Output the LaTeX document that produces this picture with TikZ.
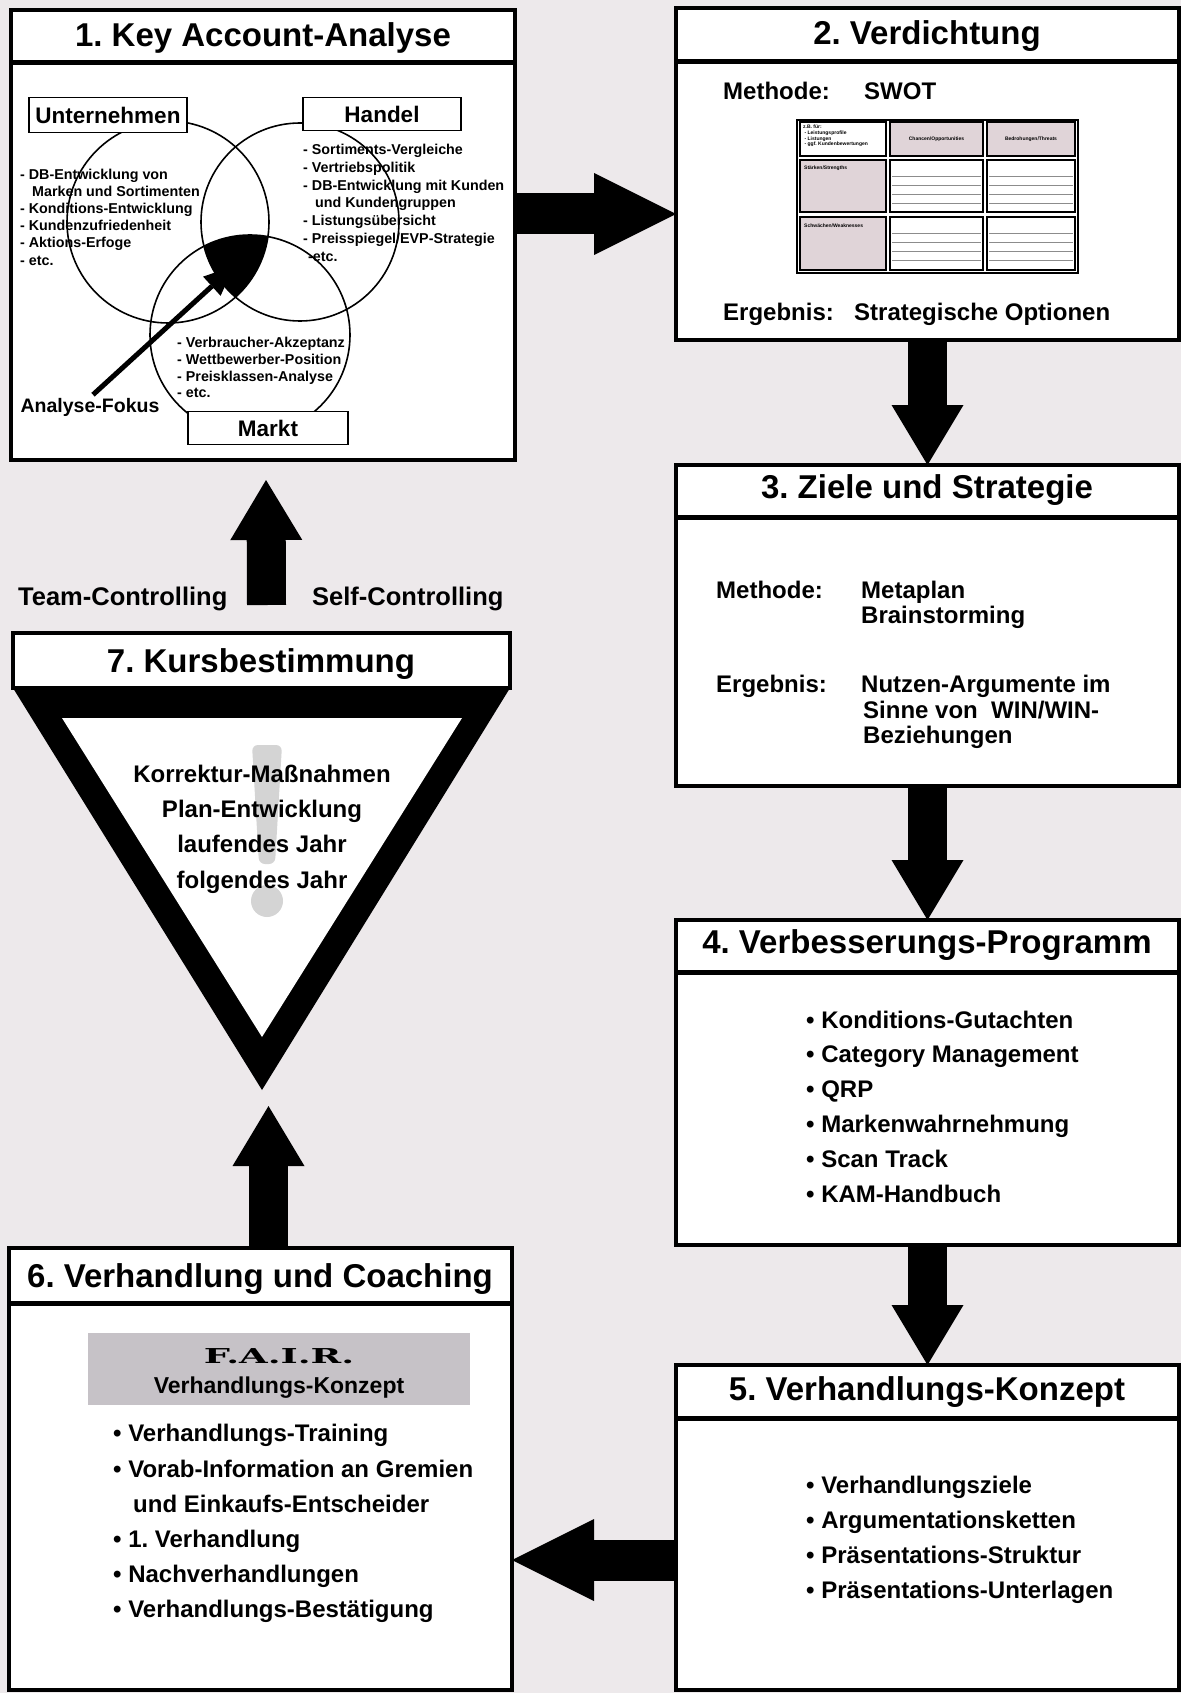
\documentclass[tikz,border=0pt]{standalone}
\usepackage{fontspec}
\usepackage{graphicx}
\setmainfont{Liberation Sans}
\newfontfamily\fairfont{DejaVu Serif}
\usetikzlibrary{arrows.meta, positioning, calc}
\frenchspacing

\definecolor{hgrund}{RGB}{237,233,235}
\definecolor{rosa}{RGB}{224,212,216}
\definecolor{fairgrau}{RGB}{198,194,199}

\tikzset{
  kasten/.style={draw, line width=4pt, fill=white, anchor=north west, inner sep=0pt, outer sep=0pt},
  trenn/.style={line width=5pt},
  titel/.style={font=\fontsize{33}{38}\selectfont\bfseries, anchor=base, inner sep=0pt},
  text24/.style={font=\fontsize{24}{28}\selectfont\bfseries, anchor=base west, inner sep=0pt},
  mitte24/.style={font=\fontsize{24}{28}\selectfont\bfseries, anchor=base, inner sep=0pt},
  venntext/.style={font=\fontsize{14.3}{17}\selectfont\bfseries, anchor=base west, inner sep=0pt},
  etikett/.style={draw, line width=1.5pt, fill=white, inner sep=0pt, font=\fontsize{22.5}{26}\selectfont\bfseries},
  kreis/.style={line width=1.6pt},
  blockpfeil/.style={line width=39pt, -{Triangle[length=60pt, width=72pt, line width=0pt]}},
  querpfeil/.style={line width=41pt, -{Triangle[length=82pt, width=82pt, line width=0pt]}},
  zelle/.style={draw, line width=1.2pt},
  mini/.style={font=\fontsize{5}{5.6}\selectfont\bfseries, inner sep=0pt},
}

\begin{document}
\begin{tikzpicture}[x=1pt, y=-1pt]
  % Hintergrund
  \fill[hgrund] (0,0) rectangle (1181,1693);
  \useasboundingbox (0,0) rectangle (1181,1693);

  % Kaesten
  \node[kasten, minimum width=504pt, minimum height=450pt] (ka) at (11,10) {};
  \node[kasten, minimum width=503pt, minimum height=332pt] (verd) at (676,8) {};
  \node[kasten, minimum width=503pt, minimum height=321pt] (ziele) at (676,465) {};
  \node[kasten, minimum width=503pt, minimum height=325pt] (verb) at (676,920) {};
  \node[kasten, minimum width=503pt, minimum height=325pt] (konz) at (676,1365) {};
  \node[kasten, minimum width=503pt, minimum height=442pt] (verh) at (9,1248) {};

  \draw[trenn] ($(ka.north west)+(0,53)$) -- ($(ka.north east)+(0,53)$);
  \draw[trenn] ($(verd.north west)+(0,54)$) -- ($(verd.north east)+(0,54)$);
  \draw[trenn] ($(ziele.north west)+(0,52)$) -- ($(ziele.north east)+(0,52)$);
  \draw[trenn] ($(verb.north west)+(0,52)$) -- ($(verb.north east)+(0,52)$);
  \draw[trenn] ($(konz.north west)+(0,53)$) -- ($(konz.north east)+(0,53)$);
  \draw[trenn] ($(verh.north west)+(0,55)$) -- ($(verh.north east)+(0,55)$);

  % Dreieck Kursbestimmung
  \fill (13,688) -- (510,688) -- (262,1090) -- cycle;
  \fill[white] (62,718) -- (462,718) -- (262,1037) -- cycle;
  \node[kasten, minimum width=497pt, minimum height=55pt] (kurs) at (13,633) {};
  \fill[black!17, rounded corners=6pt] (252,745) -- (282,745) -- (275,864) -- (259,864) -- cycle;
  \fill[black!17] (267,901) circle[radius=16];

  % Titel
  \node[titel] (t1) at (263,47) {1. Key Account-Analyse};
  \node[titel] (t2) at (927,45) {2. Verdichtung};
  \node[titel] (t3) at (927,498) {3. Ziele und Strategie};
  \node[titel] (t4) at (927,953) {4. Verbesserungs-Programm};
  \node[titel] (t5) at (927,1400) {5. Verhandlungs-Konzept};
  \node[titel] (t6) at (260,1287) {6. Verhandlung und Coaching};
  \node[titel] (t7) at (261,672) {7. Kursbestimmung};

  % Venn-Diagramm
  \begin{scope}
    \clip (168,222) circle[radius=101];
    \clip (300,222) circle[radius=99];
    \fill (250,335) circle[radius=100];
  \end{scope}
  \draw[kreis] (168,222) circle[radius=101];
  \draw[kreis] (300,222) circle[radius=99];
  \draw[kreis] (250,335) circle[radius=100];

  \node[venntext] (u1) at (20,180) {- DB-Entwicklung von};
  \node[venntext] (u2) at (32,197) {Marken und Sortimenten};
  \node[venntext] (u3) at (20,214) {- Konditions-Entwicklung};
  \node[venntext] (u4) at (20,231) {- Kundenzufriedenheit};
  \node[venntext] (u5) at (20,248) {- Aktions-Erfoge};
  \node[venntext] (u6) at (20,266) {- etc.};

  \node[venntext] (h1) at (303,155) {- Sortiments-Vergleiche};
  \node[venntext] (h2) at (303,173) {- Vertriebspolitik};
  \node[venntext] (h3) at (303,191) {- DB-Entwicklung mit Kunden};
  \node[venntext] (h4) at (315,208) {und Kundengruppen};
  \node[venntext] (h5) at (303,226) {- Listungsübersicht};
  \node[venntext] (h6) at (303,244) {- Preisspiegel/EVP-Strategie};
  \node[venntext] (h7) at (308,262) {-etc.};

  \node[venntext] (m1) at (177,347) {- Verbraucher-Akzeptanz};
  \node[venntext] (m2) at (177,364) {- Wettbewerber-Position};
  \node[venntext] (m3) at (177,381) {- Preisklassen-Analyse};
  \node[venntext] (m4) at (177,397) {- etc.};

  \node[etikett, minimum width=158pt, minimum height=35pt] (unt) at (108,115) {Unternehmen};
  \node[etikett, minimum width=158pt, minimum height=33pt] (handel) at (382,114) {Handel};
  \node[etikett, minimum width=160pt, minimum height=33pt] (markt) at (268,428) {Markt};

  \node[font=\fontsize{19.5}{22}\selectfont\bfseries, inner sep=0pt] (fokus) at (90,407) {Analyse-Fokus};
  \coordinate (fokusziel) at (234,266);
  \draw[line width=5pt, -{Triangle[length=30pt, width=26pt, line width=0pt]}] ($(fokus.north)+(3,-3)$) -- (fokusziel);

  % SWOT-Tabelle
  \draw[line width=2.5pt] (797,120) rectangle (1078,273);
  \draw[zelle, fill=white] (800,122) rectangle (886,156);
  \draw[zelle, fill=rosa] (890,122) rectangle (983,156);
  \draw[zelle, fill=rosa] (987,122) rectangle (1075,156);
  \draw[zelle, fill=rosa] (800,160) rectangle (886,212);
  \draw[zelle, fill=white] (890,160) rectangle (983,212);
  \draw[zelle, fill=white] (987,160) rectangle (1075,212);
  \draw[zelle, fill=rosa] (800,217) rectangle (886,270);
  \draw[zelle, fill=white] (890,217) rectangle (983,270);
  \draw[zelle, fill=white] (987,217) rectangle (1075,270);
  \foreach \y in {176,185,194,203} {
    \draw[black!45, line width=.6pt] (892,\y) -- (981,\y);
    \draw[black!45, line width=.6pt] (989,\y) -- (1073,\y);
    \draw[black!45, line width=.6pt] (892,\y+57) -- (981,\y+57);
    \draw[black!45, line width=.6pt] (989,\y+57) -- (1073,\y+57);
  }
  \node[mini, anchor=north west, align=left] (sw0) at (803,125) {z.B. für:\\ \ - Leistungsprofile\\ \ - Listungen\\ \ - ggf. Kundenbewertungen};
  \node[mini] (sw1) at (936.5,139) {Chancen/Opportunities};
  \node[mini] (sw2) at (1031,139) {Bedrohungen/Threats};
  \node[mini, anchor=north west] (sw3) at (804,166) {Stärken/Strengths};
  \node[mini, anchor=north west] (sw4) at (804,224) {Schwächen/Weaknesses};

  \node[text24] (me2) at (723,100) {Methode:};
  \node[text24] (sw) at (864,100) {SWOT};
  \node[text24] (er2) at (723,320) {Ergebnis:};
  \node[text24] (op) at (854,320) {Strategische Optionen};

  % Ziele und Strategie
  \node[text24] (me3) at (716,598) {Methode:};
  \node[text24] (mp) at (861,598) {Metaplan};
  \node[text24] (bs) at (861,623) {Brainstorming};
  \node[text24] (er3) at (716,692) {Ergebnis:};
  \node[text24] (na1) at (861,692) {Nutzen-Argumente im};
  \node[text24] (na2) at (863,718) {Sinne von~ WIN/WIN-};
  \node[text24] (na3) at (863,743) {Beziehungen};

  % Verbesserungs-Programm
  \foreach \t [count=\i from 0] in {Konditions-Gutachten, Category Management, QRP, Markenwahrnehmung, Scan Track, KAM-Handbuch}
    \node[text24] (vp\i) at (806,{1028+34.8*\i}) {\textbullet\ \t};

  % Verhandlungs-Konzept
  \foreach \t [count=\i from 0] in {Verhandlungsziele, Argumentationsketten, Präsentations-Struktur, Präsentations-Unterlagen}
    \node[text24] (vk\i) at (806,{1493+35*\i}) {\textbullet\ \t};

  % Verhandlung und Coaching
  \node[fill=fairgrau, minimum width=382pt, minimum height=72pt, inner sep=0pt] (fair) at (279,1369) {};
  \node[font=\fairfont\fontsize{20.5}{24}\selectfont\bfseries, inner sep=0pt, anchor=base] (fairname) at (279,1363) {\scalebox{1.8}[1]{F.A.I.R.}};
  \node[font=\fontsize{23}{26}\selectfont\bfseries, inner sep=0pt, anchor=base] (fairkonz) at (279,1393) {Verhandlungs-Konzept};
  \node[text24] (vc1) at (113,1441) {\textbullet\ Verhandlungs-Training};
  \node[text24] (vc2) at (113,1477) {\textbullet\ Vorab-Information an Gremien};
  \node[text24] (vc3) at (133,1512) {und Einkaufs-Entscheider};
  \node[text24] (vc4) at (113,1547) {\textbullet\ 1. Verhandlung};
  \node[text24] (vc5) at (113,1582) {\textbullet\ Nachverhandlungen};
  \node[text24] (vc6) at (113,1617) {\textbullet\ Verhandlungs-Bestätigung};

  % Kursbestimmung
  \node[mitte24] (kb1) at (262,782) {Korrektur-Maßnahmen};
  \node[mitte24] (kb2) at (262,817) {Plan-Entwicklung};
  \node[mitte24] (kb3) at (262,852) {laufendes Jahr};
  \node[mitte24] (kb4) at (262,888) {folgendes Jahr};

  \node[font=\fontsize{25.5}{30}\selectfont\bfseries, anchor=base west, inner sep=0pt] (team) at (18,605) {Team-Controlling};
  \node[font=\fontsize{25.5}{30}\selectfont\bfseries, anchor=base west, inner sep=0pt] (self) at (312,605) {Self-Controlling};

  % Pfeile
  \draw[querpfeil] ($(ka.north east)+(0,204)$) -- ($(verd.north west)+(0,206)$);
  \draw[blockpfeil] (verd.south) -- (ziele.north);
  \draw[blockpfeil] (ziele.south) -- (verb.north);
  \draw[blockpfeil] (verb.south) -- (konz.north);
  \draw[querpfeil] ($(konz.north west)+(0,195)$) -- ($(verh.north east)+(0,312)$);
  \draw[blockpfeil] ($(verh.north)+(8,0)$) -- ($(verh.north)+(8,-142)$);
  \draw[blockpfeil] ($(kurs.north)+(5,-28)$) -- ($(ka.south)+(3,20)$);
\end{tikzpicture}
\end{document}
